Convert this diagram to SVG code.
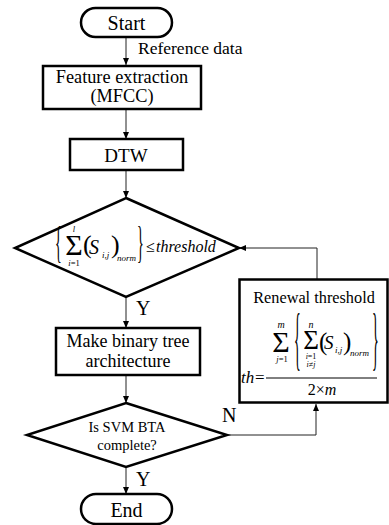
<svg xmlns="http://www.w3.org/2000/svg" width="389" height="525" viewBox="0 0 389 525" font-family="'Liberation Serif', 'DejaVu Serif', serif">
<style>
text{font-family:'Liberation Serif','DejaVu Serif',serif;fill:#000}
.node{fill:#fff;stroke:#000;stroke-width:2.5}
.conn{fill:none;stroke:#222;stroke-width:1}
.it{font-style:italic}
.m{text-anchor:middle}
</style>
<defs>
<marker id="arr" markerUnits="userSpaceOnUse" markerWidth="7" markerHeight="6" refX="7" refY="3" orient="auto">
<path d="M0,0 L7,3 L0,6 z" fill="#000"/>
</marker>
</defs>
<rect width="389" height="525" fill="#fff"/>

<g id="connectors">
<line class="conn" x1="126" y1="37" x2="126" y2="65" marker-end="url(#arr)"/>
<line class="conn" x1="126" y1="109" x2="126" y2="139" marker-end="url(#arr)"/>
<line class="conn" x1="126" y1="170" x2="126" y2="198" marker-end="url(#arr)"/>
<line class="conn" x1="126" y1="297" x2="126" y2="328" marker-end="url(#arr)"/>
<line class="conn" x1="126" y1="375" x2="126" y2="403" marker-end="url(#arr)"/>
<line class="conn" x1="126" y1="467" x2="126" y2="494" marker-end="url(#arr)"/>
<polyline class="conn" points="227,435 316,435 316,404" marker-end="url(#arr)"/>
<polyline class="conn" points="317,279 317,248 239,248" marker-end="url(#arr)"/>
<text x="138" y="54" font-size="17.5">Reference data</text>
<text x="136" y="315" font-size="20">Y</text>
<text x="136" y="486" font-size="20">Y</text>
<text x="222" y="422" font-size="20">N</text>
</g>

<g id="start">
<rect class="node" x="81" y="8" width="91" height="29" rx="14.5"/>
<text class="m" x="126.5" y="30" font-size="20">Start</text>
</g>

<g id="feature">
<rect class="node" x="43" y="66" width="158" height="43"/>
<text class="m" x="122" y="83" font-size="18.3">Feature extraction</text>
<text class="m" x="122" y="102" font-size="18.3">(MFCC)</text>
</g>

<g id="dtw">
<rect class="node" x="70" y="139" width="113" height="31"/>
<text class="m" x="126" y="162" font-size="19">DTW</text>
</g>

<g id="check-threshold">
<polygon class="node" points="126,198 239,248 126,297 15,248"/>
<text x="0" y="0" font-size="44" transform="translate(55,257) scale(0.32,1)">{</text>
<text class="it m" x="74" y="232" font-size="8.5">l</text>
<text class="m" x="74" y="255" font-size="30">Σ</text>
<text class="m" x="74" y="266" font-size="8.5"><tspan class="it">i</tspan>=1</text>
<text x="83" y="253" font-size="26">(</text>
<text class="it" x="89" y="254" font-size="20">S</text>
<text class="it" x="102" y="258" font-size="9">i,j</text>
<text x="111" y="253" font-size="26">)</text>
<text class="it" x="117" y="261" font-size="9">norm</text>
<text x="0" y="0" font-size="44" transform="translate(137,257) scale(0.32,1)">}</text>
<text x="146" y="252" font-size="16">≤</text>
<text class="it" x="156" y="252" font-size="16">threshold</text>
</g>

<g id="binary-tree">
<rect class="node" x="56" y="328" width="144" height="47"/>
<text class="m" x="128" y="347" font-size="18">Make binary tree</text>
<text class="m" x="128" y="367" font-size="18">architecture</text>
</g>

<g id="svm-complete">
<polygon class="node" points="126,403 227,435 126,467 27,435"/>
<text class="m" x="127" y="432" font-size="14.5">Is SVM BTA</text>
<text class="m" x="127" y="450" font-size="14.5">complete?</text>
</g>

<g id="end">
<rect class="node" x="81" y="494" width="91" height="30" rx="15"/>
<text class="m" x="126.5" y="517" font-size="20">End</text>
</g>

<g id="renewal">
<rect class="node" x="239.5" y="279.5" width="148" height="123" stroke-width="3"/>
<text class="m" x="314" y="303" font-size="16.3">Renewal threshold</text>
<text class="it" x="241" y="383" font-size="17">th</text>
<text x="255" y="383" font-size="17">=</text>
<line x1="266" y1="378" x2="377" y2="378" stroke="#000" stroke-width="1"/>
<text class="m" x="322" y="395" font-size="16">2×<tspan class="it">m</tspan></text>
<text class="it m" x="281" y="328" font-size="10">m</text>
<text class="m" x="281" y="352" font-size="30">Σ</text>
<text class="m" x="282" y="362" font-size="8.5"><tspan class="it">j</tspan>=1</text>
<text x="0" y="0" font-size="70" transform="translate(294,362) scale(0.2,1)">{</text>
<text class="it m" x="311" y="328" font-size="10">n</text>
<text class="m" x="311" y="349" font-size="27">Σ</text>
<text class="m" x="311" y="359" font-size="8"><tspan class="it">i</tspan>=1</text>
<text class="m" x="311" y="367" font-size="8"><tspan class="it">i</tspan>≠<tspan class="it">j</tspan></text>
<text x="319" y="350" font-size="25">(</text>
<text class="it" x="324" y="349" font-size="19">S</text>
<text class="it" x="335" y="353" font-size="9">i,j</text>
<text x="343" y="350" font-size="25">)</text>
<text class="it" x="350" y="356" font-size="9">norm</text>
<text x="0" y="0" font-size="70" transform="translate(372,362) scale(0.2,1)">}</text>
</g>
</svg>
